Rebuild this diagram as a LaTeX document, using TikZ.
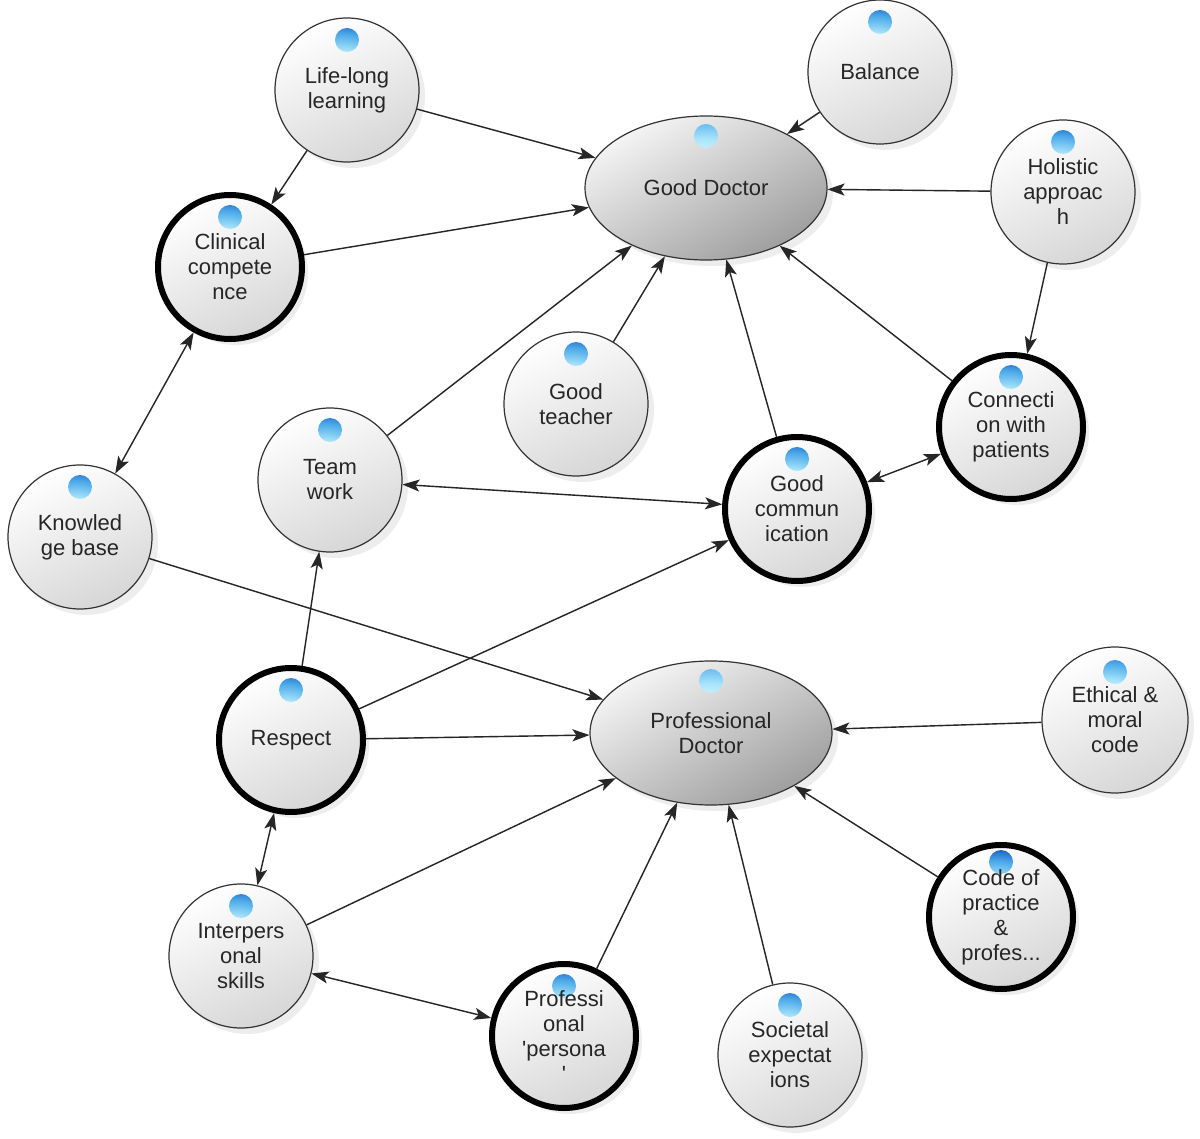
\documentclass[tikz,border=0pt]{standalone}
\usepackage{fontspec}
\setmainfont{Liberation Sans}
\usetikzlibrary{arrows.meta,shadows,shapes.geometric,backgrounds}
\definecolor{iconA}{HTML}{F4FDFF}
\definecolor{iconB}{HTML}{A8E4FA}
\definecolor{iconC}{HTML}{4AA8E8}
\definecolor{iconD}{HTML}{1F62C4}
\definecolor{iconE}{HTML}{1A4E9E}
\pgfdeclareradialshading{icon}{\pgfpoint{-2bp}{2bp}}{color(0bp)=(iconA); color(6bp)=(iconA); color(13bp)=(iconB); color(19bp)=(iconC); color(23bp)=(iconD); color(25bp)=(iconE); color(50bp)=(iconE)}
\tikzset{
  icon/.style={path picture={\shade[shading=icon] ([yshift=#1]path picture bounding box.center) circle[radius=12pt];}},
  icon/.default=50pt,
  concept/.style={circle, minimum size=144pt, inner sep=0pt, align=center,
    font=\fontsize{22}{25}\selectfont, text=black!85, draw=black!80, line width=1.2pt,
    top color=white, bottom color=black!16, shading angle=25,
    drop shadow={shadow xshift=6pt, shadow yshift=-6pt, opacity=0.07, fill=black},
    icon},
  key/.style={concept, line width=6pt, draw=black},
  goal/.style={ellipse, minimum width=242pt, minimum height=144pt, inner sep=0pt, align=center,
    font=\fontsize{22}{25}\selectfont, text=black!85, draw=black!80, line width=1.2pt,
    top color=black!4, bottom color=black!38, shading angle=30,
    drop shadow={shadow xshift=6pt, shadow yshift=-6pt, opacity=0.07, fill=black},
    icon=52pt},
  tip/.style={Stealth[length=17pt,width=12pt,inset=4pt]},
  arr/.style={draw=black!85, line width=1.4pt, -{Stealth[length=17pt,width=12pt,inset=4pt]}},
  darr/.style={draw=black!85, line width=1.4pt, {Stealth[length=17pt,width=12pt,inset=4pt]}-{Stealth[length=17pt,width=12pt,inset=4pt]}},
  sarr/.style={draw=black!8, line width=1.3pt, -{Stealth[length=17pt,width=12pt,inset=4pt]}},
  sdarr/.style={draw=black!8, line width=1.3pt, {Stealth[length=17pt,width=12pt,inset=4pt]}-{Stealth[length=17pt,width=12pt,inset=4pt]}},
}
\begin{document}
\begin{tikzpicture}[x=1pt,y=-1pt]
\useasboundingbox (0,0) rectangle (1200,1139);

\node[concept] (lll) at (347,90) {Life-long\\learning};
\node[concept] (bal) at (880,72) {Balance};
\node[goal] (gd) at (706,188) {Good Doctor};
\node[concept] (hol) at (1063,192) {Holistic\\approac\\h};
\node[key] (cc) at (230,267) {Clinical\\compete\\nce};
\node[concept] (gt) at (576,404) {Good\\teacher};
\node[key] (cwp) at (1011,427) {Connecti\\on with\\patients};
\node[concept] (tw) at (330,480) {Team\\work};
\node[key] (gc) at (797,509) {Good\\commun\\ication};
\node[concept] (kb) at (80,537) {Knowled\\ge base};
\node[goal] (pd) at (711,733) {Professional\\Doctor};
\node[key] (res) at (291,740) {Respect};
\node[concept, minimum size=146pt, icon=48pt] (eth) at (1115,720) {Ethical \&\\moral\\code};
\node[key, icon=55pt] (cop) at (1001,917) {Code of\\practice\\\&\\profes...};
\node[concept] (ips) at (241,956) {Interpers\\onal\\skills};
\node[key] (pp) at (564,1036) {Professi\\onal\\\textquotesingle persona\\\textquotesingle};
\node[concept] (se) at (790,1055) {Societal\\expectat\\ions};

\begin{scope}[on background layer]
\fill[white] (0,0) rectangle (1200,1139);
\end{scope}
\begin{scope}[on background layer, transform canvas={xshift=14pt,yshift=-12pt}]
\draw[sarr] (lll) -- (gd);
\draw[sarr] (lll) -- (cc);
\draw[sarr] (bal) -- (gd);
\draw[sarr] (hol) -- (gd);
\draw[sarr] (hol) -- (cwp);
\draw[sarr] (cc) -- (gd);
\draw[sdarr] (cc) -- (kb);
\draw[sarr] (tw) -- (gd);
\draw[sarr] (gt) -- (gd);
\draw[sarr] (gc) -- (gd);
\draw[sarr] (cwp) -- (gd);
\draw[sdarr] (tw) -- (gc);
\draw[sdarr] (gc) -- (cwp);
\draw[sarr] (kb) -- (pd);
\draw[sarr] (res) -- (tw);
\draw[sarr] (res) -- (gc);
\draw[sarr] (res) -- (pd);
\draw[sarr] (eth) -- (pd);
\draw[sarr] (cop) -- (pd);
\draw[sarr] (se) -- (pd);
\draw[sarr] (pp) -- (pd);
\draw[sarr] (ips) -- (pd);
\draw[sdarr] (res) -- (ips);
\draw[sdarr] (ips) -- (pp);
\end{scope}

\draw[arr] (lll) -- (gd);
\draw[arr] (lll) -- (cc);
\draw[arr] (bal) -- (gd);
\draw[arr] (hol) -- (gd);
\draw[arr] (hol) -- (cwp);
\draw[arr] (cc) -- (gd);
\draw[darr] (cc) -- (kb);
\draw[arr] (tw) -- (gd);
\draw[arr] (gt) -- (gd);
\draw[arr] (gc) -- (gd);
\draw[arr] (cwp) -- (gd);
\draw[darr] (tw) -- (gc);
\draw[darr] (gc) -- (cwp);
\draw[arr] (kb) -- (pd);
\draw[arr] (res) -- (tw);
\draw[arr] (res) -- (gc);
\draw[arr] (res) -- (pd);
\draw[arr] (eth) -- (pd);
\draw[arr] (cop) -- (pd);
\draw[arr] (se) -- (pd);
\draw[arr] (pp) -- (pd);
\draw[arr] (ips) -- (pd);
\draw[darr] (res) -- (ips);
\draw[darr] (ips) -- (pp);
\end{tikzpicture}
\end{document}
